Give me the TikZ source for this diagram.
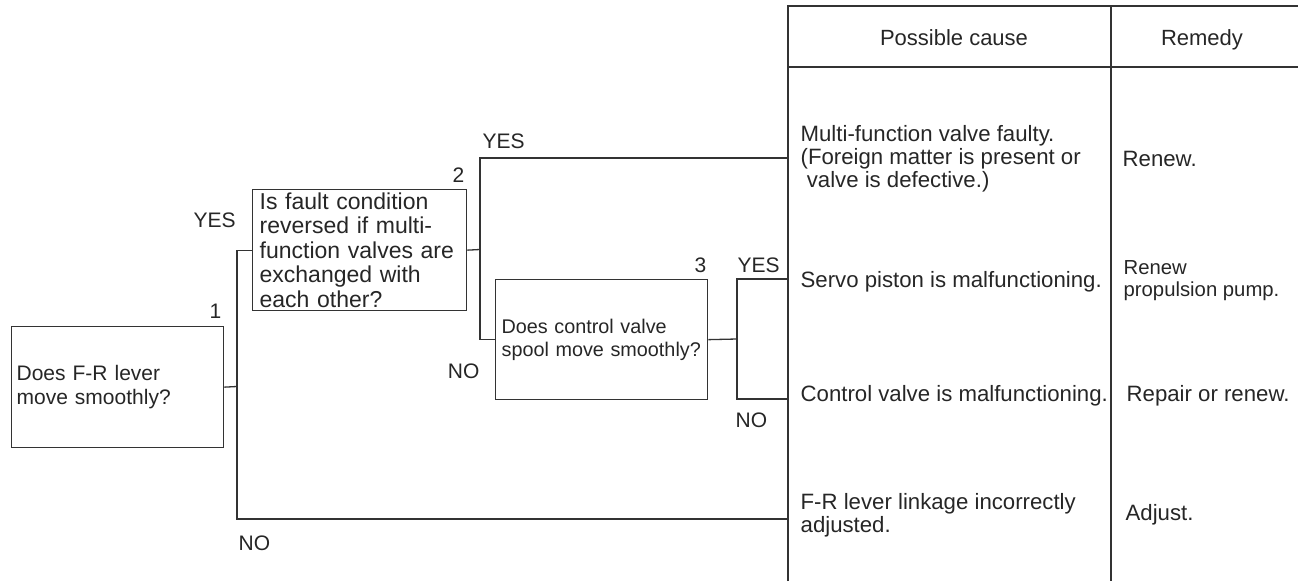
\documentclass[tikz,border=0pt]{standalone}
\usepackage{fontspec}
\setmainfont{Liberation Sans}
\begin{document}
\begin{tikzpicture}[x=1pt,y=-1pt,
  line width=1.3pt, draw=black!80,
  qbox/.style={draw=black!80, line width=1.3pt, rectangle, align=left, anchor=north west, inner ysep=0pt, text=black!85},
  lbl/.style={font=\fontsize{21}{23}\selectfont, inner sep=0pt, text=black!85},
  cell/.style={font=\fontsize{22.2}{23}\selectfont, inner sep=0pt, align=left, text=black!85},
  wire/.style={draw=black!80, line width=1.3pt}]
\useasboundingbox (0,0) rectangle (1298,581);
% table frame
\coordinate (tl) at (788,6);
\coordinate (tr) at (1298,6);
\coordinate (bl) at (788,581);
\coordinate (ml) at (788,67);
\coordinate (mr) at (1298,67);
\coordinate (dt) at (1111,6);
\coordinate (db) at (1111,581);
\draw[wire] (bl) -- (tl) -- (tr);
\draw[wire] (ml) -- (mr);
\draw[wire] (dt) -- (db);
\node[cell, anchor=base, font=\fontsize{22}{23}\selectfont] (hc) at (954,45) {Possible cause};
\node[cell, anchor=base, font=\fontsize{22}{23}\selectfont] (hr) at (1202,45) {Remedy};
% question boxes
\node[qbox, minimum width=212pt, minimum height=121pt, inner xsep=5pt, text width=202pt,
  font=\fontsize{21}{24}\selectfont] (b1) at (11,326) {\mbox{Does F-R lever}\\\mbox{move smoothly?}};
\node[qbox, minimum width=214pt, minimum height=121pt, inner xsep=7pt, text width=200pt,
  font=\fontsize{23}{24.4}\selectfont] (b2) at (252,189) {\mbox{Is fault condition}\\\mbox{reversed if multi-}\\\mbox{function valves are}\\\mbox{exchanged with}\\\mbox{each other?}};
\node[qbox, minimum width=212pt, minimum height=120pt, inner xsep=6pt, text width=200pt,
  font=\fontsize{19.8}{23}\selectfont] (b3) at (495,279) {\mbox{Does control valve}\\\mbox{spool move smoothly?}};
% numbers
\node[lbl, anchor=base east] (n1) at (222,318) {1};
\node[lbl, anchor=base east] (n2) at (465,182) {2};
\node[lbl, anchor=base east] (n3) at (707,272) {3};
% causes and remedies
\node[cell, anchor=west] (c1) at (800,159) {Multi-function valve faulty.\\(Foreign matter is present or\\\ valve is defective.)};
\node[cell, anchor=base west] (r1) at (1122,166) {Renew.};
\node[cell, anchor=base west] (c2) at (800,287) {Servo piston is malfunctioning.};
\node[cell, anchor=west, font=\fontsize{20.3}{22}\selectfont] (r2) at (1123,281) {Renew\\propulsion pump.};
\node[cell, anchor=base west] (c3) at (800,401) {Control valve is malfunctioning.};
\node[cell, anchor=base west] (r3) at (1126,401) {Repair or renew.};
\node[cell, anchor=west] (c4) at (800,515) {F-R lever linkage incorrectly\\adjusted.};
\node[cell, anchor=base west] (r4) at (1125,520) {Adjust.};
% junctions
\coordinate (j1) at (237,386.5);
\coordinate (j2) at (480,249.5);
\coordinate (j3) at (737,339);
\coordinate (e1) at (788,158);
\coordinate (e2) at (788,279);
\coordinate (e3) at (788,399);
\coordinate (e4) at (788,519);
\draw[wire] (b1.east) -- (j1);
\draw[wire] (j1) |- (b2.west);
\draw[wire] (j1) |- (e4);
\draw[wire] (b2.east) -- (j2);
\draw[wire] (j2) |- (e1);
\draw[wire] (j2) |- (b3.west);
\draw[wire] (b3.east) -- (j3);
\draw[wire] (j3) |- (e2);
\draw[wire] (j3) |- (e3);
% YES / NO labels
\node[lbl, anchor=base west] (y1) at (193,227) {YES};
\node[lbl, anchor=base west] (y2) at (482,148) {YES};
\node[lbl, anchor=base west] (y3) at (737,272) {YES};
\node[lbl, anchor=base east] (no2) at (480,378) {NO};
\node[lbl, anchor=base west] (no3) at (735,427) {NO};
\node[lbl, anchor=base west] (no1) at (238,550) {NO};
\end{tikzpicture}
\end{document}
